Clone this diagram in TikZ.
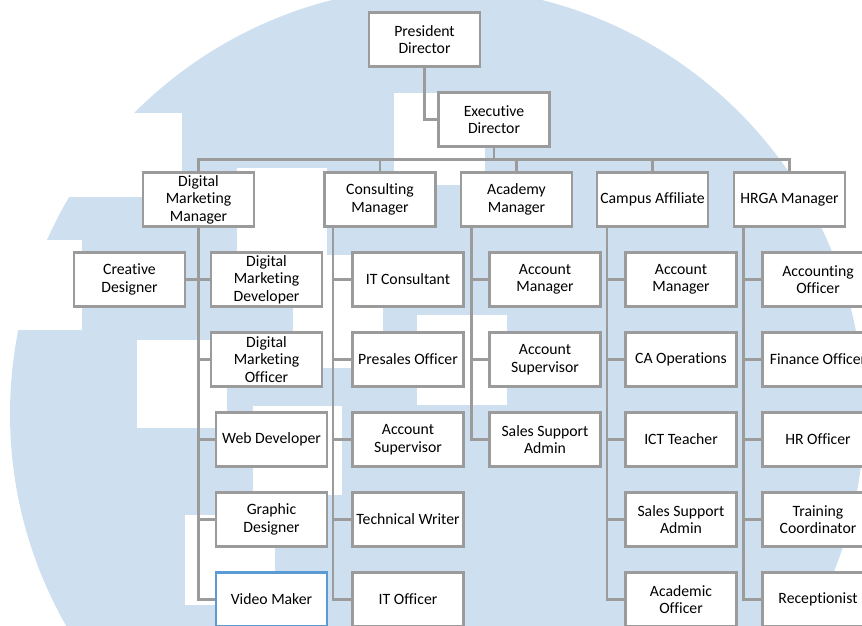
\documentclass[tikz,border=0pt]{standalone}
\usepackage{fontspec}
\setmainfont[Ligatures=CommonOff]{Carlito}
\definecolor{linegray}{RGB}{155,155,155}
\definecolor{logoblue}{RGB}{206,224,240}
\definecolor{pickblue}{RGB}{91,155,213}

\begin{document}
\begin{tikzpicture}[x=0.75pt,y=-0.75pt,
	box/.style={draw=linegray, line width=1.9pt, fill=white, minimum width=83.5pt, minimum height=40.5pt, inner sep=1pt, align=center, font=\fontsize{11.8}{13.1}\selectfont},
	pickbox/.style={box, draw=pickblue},
	link/.style={draw=linegray, line width=1.9pt}]
	
	\useasboundingbox (0,0) rectangle (862,625);
	\clip (0,0) rectangle (862,625);
	
	% watermark
	\fill[logoblue] (437,414) circle[radius=320.25pt];
	\fill[white] (60,113) rectangle (182,197);
	\fill[white] (0,240) rectangle (82,330);
	\fill[white] (237,168) rectangle (327,260);
	\fill[white] (293,255) rectangle (383,368);
	\fill[white] (137,340) rectangle (227,428);
	\fill[white] (253,406) rectangle (342,495);
	\fill[white] (185,515) rectangle (275,605);
	\fill[white] (394,93) rectangle (485,185);
	\fill[white] (417,315) rectangle (507,405);
	
	\node[box] (pd) at (424.5,39.5) {President\\Director};
	\node[box] (ed) at (494,119.5) {Executive\\Director};
	\draw[link] (pd.south) |- (ed.west);
	
	\node[box] (dmm) at (198.5,199.5) {Digital\\Marketing\\Manager};
	\node[box] (cm) at (380,199.5) {Consulting\\Manager};
	\node[box] (am) at (516.5,199.5) {Academy\\Manager};
	\node[box] (ca) at (652.5,199.5) {Campus Affiliate};
	\node[box] (hrga) at (789.5,199.5) {HRGA Manager};
	\foreach \m in {dmm,cm,am,ca,hrga}
		\draw[link] (\m.north) -- ++(0,-12) -| (ed.south);
	
	\node[box] (cd) at (129.5,279.5) {Creative\\Designer};
	\draw[link] (dmm.south) |- (cd.east);
	\foreach \t/\x/\s [count=\i] in {{Digital\\Marketing\\Developer}/266.5/box, {Digital\\Marketing\\Officer}/266.5/box, {Web Developer}/271.5/box, {Graphic\\Designer}/271.5/box, {Video Maker}/271.5/pickbox}{
		\node[\s] (dm\i) at (\x,199.5+80*\i) {\t};
		\draw[link] (dmm.south) |- (dm\i.west);
	}
	
	\coordinate (cm-t) at ([xshift=7.5pt]cm.south west);
	\foreach \t [count=\i] in {IT Consultant, Presales Officer, {Account\\Supervisor}, Technical Writer, IT Officer}{
		\node[box] (cm\i) at (408,199.5+80*\i) {\t};
		\draw[link] (cm-t) |- (cm\i.west);
	}
	
	\coordinate (am-t) at ([xshift=9pt]am.south west);
	\foreach \t [count=\i] in {{Account\\Manager}, {Account\\Supervisor}, {Sales Support\\Admin}}{
		\node[box] (am\i) at (545,199.5+80*\i) {\t};
		\draw[link] (am-t) |- (am\i.west);
	}
	
	\coordinate (ca-t) at ([xshift=8.5pt]ca.south west);
	\foreach \t [count=\i] in {{Account\\Manager}, CA Operations, ICT Teacher, {Sales Support\\Admin}, {Academic\\Officer}}{
		\node[box] (ca\i) at (681,199.5+80*\i) {\t};
		\draw[link] (ca-t) |- (ca\i.west);
	}
	
	\coordinate (hrga-t) at ([xshift=8pt]hrga.south west);
	\foreach \t [count=\i] in {{Accounting\\Officer}, Finance Officer, HR Officer, {Training\\Coordinator}, Receptionist}{
		\node[box] (hrga\i) at (818,199.5+80*\i) {\t};
		\draw[link] (hrga-t) |- (hrga\i.west);
	}
\end{tikzpicture}
\end{document}
